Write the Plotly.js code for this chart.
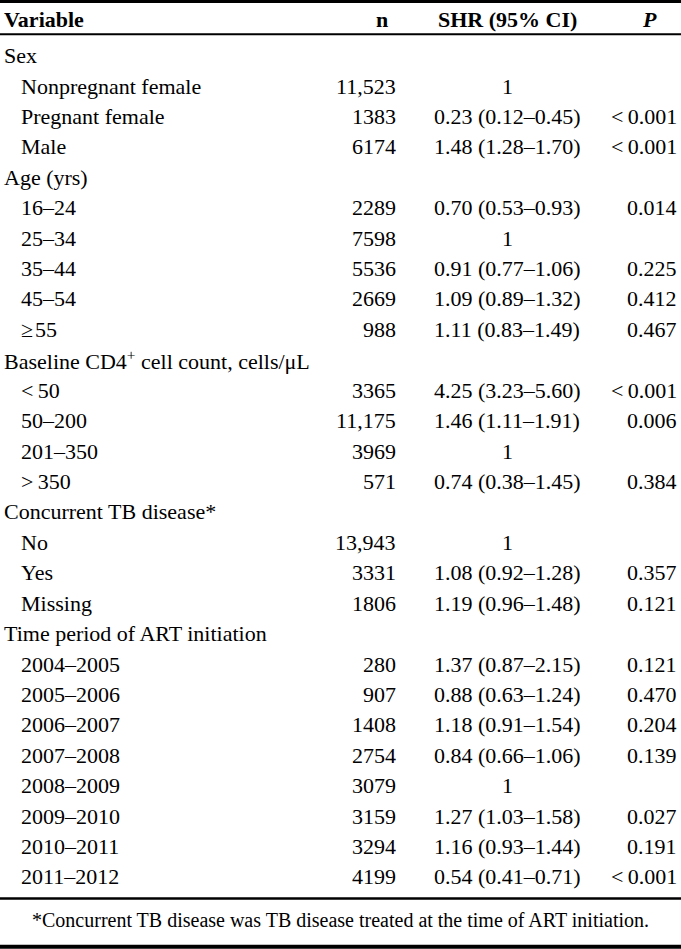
<!DOCTYPE html>
<html>
<head>
<meta charset="utf-8">
<script src="https://cdn.plot.ly/plotly-3.0.1.min.js"></script>
<style>html,body{margin:0;padding:0;background:#fff;}#chart{width:681px;height:949px;}</style>
</head>
<body>
<div id="chart"></div>
<script>
// ---- table data ----
const headers = ["<b>Variable</b>", "<b>n</b>", "<b>SHR (95% CI)</b>", "<b><i>P</i></b>"];
const variables = [
  "Sex", "Nonpregnant female", "Pregnant female", "Male",
  "Age (yrs)", "16–24", "25–34", "35–44", "45–54", "≥\u200A55",
  "Baseline CD4<sup>+</sup> cell count, cells/μL", "&lt;\u200950", "50–200", "201–350", "&gt;\u2009350",
  "Concurrent TB disease*", "No", "Yes", "Missing",
  "Time period of ART initiation", "2004–2005", "2005–2006", "2006–2007", "2007–2008",
  "2008–2009", "2009–2010", "2010–2011", "2011–2012"
];
const isGroup = [1,0,0,0, 1,0,0,0,0,0, 1,0,0,0,0, 1,0,0,0, 1,0,0,0,0,0,0,0,0];
const nValues = [null, 11523, 1383, 6174, null, 2289, 7598, 5536, 2669, 988,
  null, 3365, 11175, 3969, 571, null, 13943, 3331, 1806,
  null, 280, 907, 1408, 2754, 3079, 3159, 3294, 4199];
const shrValues = ["", "1", "0.23 (0.12–0.45)", "1.48 (1.28–1.70)",
  "", "0.70 (0.53–0.93)", "1", "0.91 (0.77–1.06)", "1.09 (0.89–1.32)", "1.11 (0.83–1.49)",
  "", "4.25 (3.23–5.60)", "1.46 (1.11–1.91)", "1", "0.74 (0.38–1.45)",
  "", "1", "1.08 (0.92–1.28)", "1.19 (0.96–1.48)",
  "", "1.37 (0.87–2.15)", "0.88 (0.63–1.24)", "1.18 (0.91–1.54)", "0.84 (0.66–1.06)",
  "1", "1.27 (1.03–1.58)", "1.16 (0.93–1.44)", "0.54 (0.41–0.71)"];
const pValues = ["", "", "&lt;\u20090.001", "&lt;\u20090.001",
  "", "0.014", "", "0.225", "0.412", "0.467",
  "", "&lt;\u20090.001", "0.006", "", "0.384",
  "", "", "0.357", "0.121",
  "", "0.121", "0.470", "0.204", "0.139", "", "0.027", "0.191", "&lt;\u20090.001"];
const footnote = "*Concurrent TB disease was TB disease treated at the time of ART initiation.";

// ---- layout settings ----
const W = 681, H = 949;
const FONT = "'Liberation Serif', 'Times New Roman', serif";
const fs = 22;
const rowPx0 = 55.6, rowStep = 30.42;          // pixel centre of row 0 and row pitch
const yTop = -rowPx0 / rowStep, yBot = (H - rowPx0) / rowStep;
const headerRow = (19 - rowPx0) / rowStep;
const footRow = (920 - rowPx0) / rowStep;
const col = {group: 1.5, item: 18.5, nRight: 398, nHead: 382, shrCenter: 507, pRight: 679, pHead: 649};

function fmtN(v) { return v == null ? "" : (v >= 10000 ? v.toLocaleString("en-US") : String(v)); }

const ann = [];
function add(text, x, y, xanchor, size) {
  ann.push({text: text, x: x, y: y, xref: "x", yref: "y", xanchor: xanchor, yanchor: "middle",
    showarrow: false, font: {family: FONT, size: size || fs, color: "#000"}});
}
// header
add(headers[0], col.group, headerRow, "left");
add(headers[1], col.nHead, headerRow, "center");
add(headers[2], col.shrCenter, headerRow, "center");
add(headers[3], col.pHead, headerRow, "center");
// body
variables.forEach((v, i) => {
  add(v, isGroup[i] ? col.group : col.item, i, "left");
  const n = fmtN(nValues[i]);
  if (n) add(n, col.nRight, i, "right");
  if (shrValues[i]) add(shrValues[i], col.shrCenter, i, "center");
  if (pValues[i]) add(pValues[i], col.pRight, i, "right");
});
add(footnote, W / 2, footRow, "center", 20);

function hline(py, w) {
  return {type: "line", xref: "paper", yref: "paper", x0: 0, x1: 1, y0: 1 - py / H, y1: 1 - py / H,
    line: {color: "#000", width: w}};
}
const shapes = [hline(1.5, 3), hline(34.3, 2), hline(898.5, 2.5), hline(946.8, 4)];

const layout = {
  width: W, height: H, margin: {l: 0, r: 0, t: 0, b: 0},
  paper_bgcolor: "#fff", plot_bgcolor: "#fff",
  xaxis: {range: [0, W], visible: false, fixedrange: true},
  yaxis: {range: [yBot, yTop], visible: false, fixedrange: true},
  showlegend: false, annotations: ann, shapes: shapes
};
Plotly.newPlot("chart", [{x: [], y: [], type: "scatter", mode: "markers", hoverinfo: "skip"}], layout,
  {staticPlot: true, displayModeBar: false});
</script>
</body>
</html>
